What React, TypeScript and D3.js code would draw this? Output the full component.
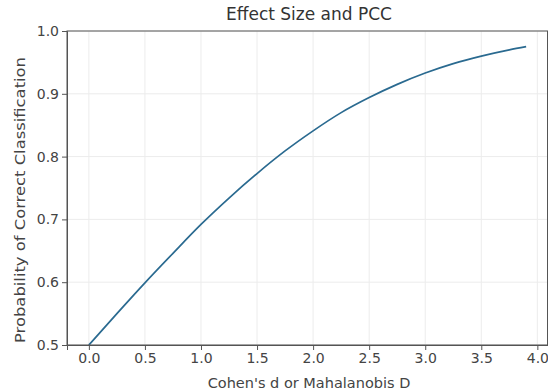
import { axisBottom, axisLeft, curveMonotoneX, line, scaleLinear, select } from "d3";
import { useEffect, useRef } from "react";

// values
const effectSizes = [0, 0.25, 0.5, 0.75, 1.0, 1.25, 1.5, 1.75, 2.0, 2.25, 2.5, 2.75, 3.0, 3.25, 3.5, 3.75, 3.9];
const pcc = [0.5, 0.55, 0.599, 0.646, 0.692, 0.734, 0.773, 0.809, 0.841, 0.87, 0.894, 0.915, 0.933, 0.948, 0.96, 0.97, 0.975];
const xTicks = [0, 0.5, 1.0, 1.5, 2.0, 2.5, 3.0, 3.5, 4.0];
const yTicks = [0.5, 0.6, 0.7, 0.8, 0.9, 1.0];

const App = () => {
  const width = 548;
  const height = 392;
  const margin = { top: 31, right: 0, bottom: 47, left: 67 };
  const svgRef = useRef<SVGSVGElement>(null);

  useEffect(() => {
    const svg = select(svgRef.current);
    svg.selectAll("*").remove();

    const xScale = scaleLinear().domain([-0.195, 4.095]).range([margin.left, width - margin.right]);
    const yScale = scaleLinear().domain([0.5, 1.0]).range([height - margin.bottom, margin.top]);

    const font = "DejaVu Sans, sans-serif";

    // grid
    const grid = svg.append("g").attr("stroke", "#ececec").attr("stroke-width", 1);
    xTicks.forEach((t) => {
      grid.append("line")
        .attr("x1", xScale(t)).attr("x2", xScale(t))
        .attr("y1", margin.top).attr("y2", height - margin.bottom);
    });
    yTicks.forEach((t) => {
      grid.append("line")
        .attr("x1", margin.left).attr("x2", width - margin.right)
        .attr("y1", yScale(t)).attr("y2", yScale(t));
    });

    const points = effectSizes.map((d, i) => ({ d, p: pcc[i] }));
    const gen = line<{ d: number; p: number }>()
      .x((v) => xScale(v.d))
      .y((v) => yScale(v.p))
      .curve(curveMonotoneX);

    svg.append("path")
      .attr("d", gen(points))
      .attr("fill", "none")
      .attr("stroke", "#2a6a90")
      .attr("stroke-width", 1.7);

    const xAxis = svg.append("g")
      .attr("transform", `translate(0,${height - margin.bottom})`)
      .call(axisBottom(xScale).tickValues(xTicks).tickFormat((v) => (v as number).toFixed(1)).tickSizeOuter(0).tickSize(5).tickPadding(3));
    const yAxis = svg.append("g")
      .attr("transform", `translate(${margin.left},0)`)
      .call(axisLeft(yScale).tickValues(yTicks).tickFormat((v) => (v as number).toFixed(1)).tickSizeOuter(0).tickSize(5).tickPadding(3));

    [xAxis, yAxis].forEach((a) => {
      a.selectAll("text").attr("font-family", font).attr("font-size", 14).attr("fill", "#444");
      a.selectAll("line").attr("stroke", "#555");
      a.select(".domain").attr("stroke", "#555");
    });

    // top and right spines
    svg.append("rect")
      .attr("x", margin.left).attr("y", margin.top)
      .attr("width", width - margin.right - margin.left - 0.5)
      .attr("height", height - margin.bottom - margin.top)
      .attr("fill", "none").attr("stroke", "#555");

    svg.append("text")
      .attr("x", 309).attr("y", 20)
      .attr("text-anchor", "middle").attr("font-family", font).attr("font-size", 17).attr("fill", "#333")
      .text("Effect Size and PCC");

    svg.append("text")
      .attr("x", 309).attr("y", 388)
      .attr("text-anchor", "middle").attr("font-family", font).attr("font-size", 14.5).attr("fill", "#444")
      .text("Cohen's d or Mahalanobis D");

    svg.append("text")
      .attr("transform", `translate(25,200) rotate(-90)`)
      .attr("text-anchor", "middle").attr("font-family", font).attr("font-size", 14.5).attr("fill", "#444")
      .attr("textLength", 286).attr("lengthAdjust", "spacingAndGlyphs")
      .text("Probability of Correct Classification");
  }, []);

  return (
    <svg ref={svgRef} width={width} height={height} style={{ position: "absolute", left: 0, top: 0, background: "#fff" }} />
  );
};

export default App;
